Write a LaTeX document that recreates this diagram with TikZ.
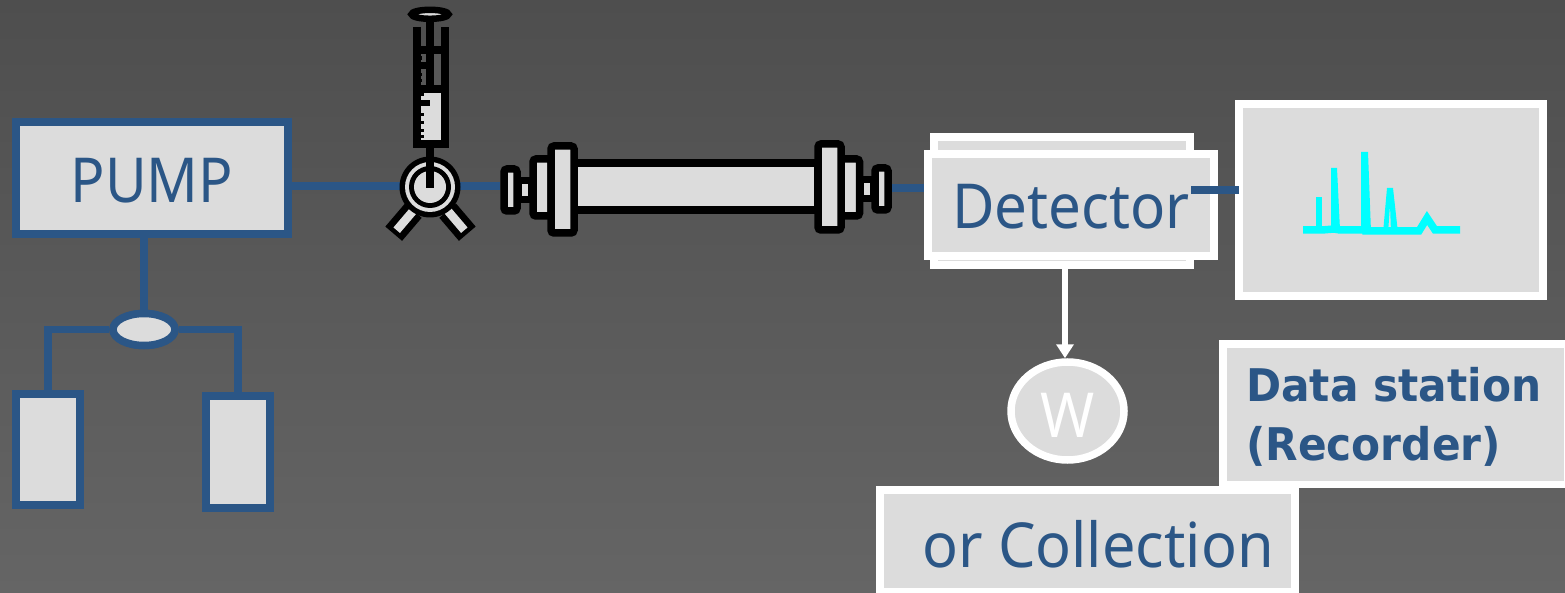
\documentclass[tikz,border=0pt]{standalone}
\usepackage{fontspec}
\setmainfont[FakeStretch=0.94]{Noto Sans}
\newfontfamily\stationfont[FakeStretch=0.94]{DejaVu Sans}
\usetikzlibrary{positioning,arrows.meta,shapes.geometric,calc}
\definecolor{panelgray}{HTML}{DCDCDC}
\definecolor{pipeblue}{HTML}{2B5686}
\definecolor{tracecyan}{HTML}{00FFFF}
\definecolor{windowgray}{HTML}{585858}
\definecolor{bgtop}{HTML}{4E4E4E}
\definecolor{bgmid}{HTML}{5E5E5E}
\definecolor{bgbottom}{HTML}{656565}

\begin{document}
\begin{tikzpicture}[
  x=1pt, y=-1pt,
  box/.style={draw=pipeblue, fill=panelgray, line width=7.5pt, inner sep=0pt, text=pipeblue, font=\fontsize{62}{70}\selectfont},
  whitebox/.style={box, draw=white},
  part/.style={draw=black, fill=panelgray, line width=7.5pt, rounded corners=3pt, inner sep=0pt},
  pipe/.style={draw=pipeblue, line width=7.5pt},
  trace/.style={draw=tracecyan, line width=7.5pt},
  blackline/.style={draw=black, line width=7.5pt}
]
\shade[top color=bgtop, middle color=bgmid, bottom color=bgbottom] (0,0) rectangle (1565,593);
\useasboundingbox (0,0) rectangle (1565,593);

\node[box, minimum width=272pt, minimum height=112pt, text height=49pt, text depth=0pt] (pump) at (152,178) {\scalebox{0.98}[1]{PUMP}};
\node[box, ellipse, minimum width=62pt, minimum height=32pt] (mixer) at (144,329.5) {};
\node[box, minimum width=64pt, minimum height=111pt] (tankA) at (48,449.5) {};
\node[box, minimum width=64pt, minimum height=112pt] (tankB) at (238,452) {};
\coordinate (tapA) at (48,329.5);
\coordinate (tapB) at (238,329.5);
\draw[pipe] (pump.south -| mixer) -- (mixer);
\draw[pipe] (mixer) -- (tapA) -- (tankA);
\draw[pipe] (mixer) -- (tapB) -- (tankB);
\node[box, ellipse, minimum width=62pt, minimum height=32pt] at (mixer) {};

\node[part, minimum width=244pt, minimum height=47pt, rounded corners=0pt] (tube) at (696,186.5) {};
\node[part, minimum width=14pt, minimum height=19pt, rounded corners=0pt] (ferruleL) at (525,190) {};
\node[part, minimum width=14pt, minimum height=19pt, rounded corners=0pt] (ferruleR) at (867,189) {};
\node[part, minimum width=18pt, minimum height=57pt] (nutL) at (542,187.5) {};
\node[part, minimum width=19pt, minimum height=57pt] (nutR) at (850,187.5) {};
\node[part, minimum width=23pt, minimum height=87pt] (flangeL) at (562.5,189.5) {};
\node[part, minimum width=23pt, minimum height=86pt] (flangeR) at (829.5,187) {};
\node[part, minimum width=13pt, minimum height=42pt] (capL) at (510.5,190) {};
\node[part, minimum width=13pt, minimum height=42pt] (capR) at (881.5,189) {};

\coordinate (valve) at (430,187);
\draw[pipe] (pump.east |- 0,186) -- (capL.west |- 0,186);
\draw[pipe] (capR.east |- 0,188) -- (925,188);

\draw[black, line width=22pt] (413.3,210.7) -- (393.7,233.7);
\draw[black, line width=22pt] (447.7,210.7) -- (467.3,233.7);
\draw[panelgray, line width=8.5pt] (413.3,210.7) -- (396.7,230.2);
\draw[panelgray, line width=8.5pt] (447.7,210.7) -- (464.3,230.2);
\fill[black] (valve) circle (30.5pt);
\fill[panelgray] (valve) circle (25pt);
\fill[black] (valve) circle (21pt);
\fill[panelgray] (valve) circle (16pt);

\fill[panelgray] (420,92) rectangle (442,141);
\fill[windowgray] (433,53) rectangle (442,85);
\fill[black] (420,53) rectangle (427,86);
\fill[windowgray] (422,53.5) rectangle (427,62.5);
\fill[windowgray] (422,69.5) rectangle (427,85);
\fill[windowgray] (420,53.5) rectangle (422,56);
\fill[windowgray] (420,60) rectangle (422,62.5);
\fill[windowgray] (420,69.5) rectangle (422,73);
\fill[windowgray] (420,76) rectangle (422,79);
\fill[windowgray] (420,82) rectangle (422,85);
\draw[blackline] (417,27) -- (417,144) -- (445,144) -- (445,27);
\draw[blackline] (430,15) -- (430,92);
\draw[blackline] (417,50) -- (445,50);
\draw[blackline] (417,89) -- (445,89);
\draw[blackline] (430,144) -- (430,188);
\foreach \y in {95,115,123,131,137} \draw[black, line width=3pt] (420,\y) -- (424,\y);
\draw[black, line width=6pt] (420,103) -- (430,103);
\draw[draw=black, fill=panelgray, line width=6.5pt] (430,14.3) ellipse (18.5pt and 4.5pt);

\node[whitebox, minimum width=256pt, minimum height=128pt] (detectorback) at (1062,201) {};
\node[whitebox, minimum width=286pt, minimum height=102pt, text height=48pt, text depth=0pt] (detector) at (1071,205) {Detector};
\node[whitebox, minimum width=304pt, minimum height=192pt] (monitor) at (1391,200) {};
\coordinate (outlet) at (1191,190);
\coordinate (inlet) at (1239,190);
\draw[pipe] (outlet) -- (inlet);

\draw[trace] (1303,230) -- (1322,230) -- (1334,229) -- (1340,230) -- (1366,230) -- (1366,231) -- (1396,231) -- (1419,231) -- (1427,218) -- (1435,230) -- (1460,230);
\fill[tracecyan] (1316,197) rectangle (1322,230);
\fill[tracecyan] (1331,168) -- (1337,168) -- (1340,230) -- (1331,230) -- cycle;
\fill[tracecyan] (1361,152) -- (1368,152) -- (1371,232) -- (1361,232) -- cycle;
\fill[tracecyan] (1387,188) -- (1393,188) -- (1398,233) -- (1391,233) -- (1390,205) -- (1388,233) -- (1383,233) -- cycle;

\node[box, draw=white, ellipse, minimum width=113pt, minimum height=98pt, text=white, text height=52pt, text depth=0pt] (waste) at (1067.5,411) {W};
\coordinate (drain) at (1065,268);
\draw[-{Triangle[length=14pt,width=17pt]}, draw=white, fill=white, line width=6pt] (drain) -- (drain |- waste.north);

\node[whitebox, minimum width=345pt, minimum height=140.5pt] (station) at (1395.5,414.25) {};
\node[anchor=west, inner sep=0pt, align=left, text=pipeblue, font=\fontsize{45}{59}\stationfont\bfseries] (stationlabel) at (1246,417) {Data station\\(Recorder)};
\node[whitebox, minimum width=415pt, minimum height=102pt, text height=52pt, text depth=0pt] (collection) at (1087.5,541) {\hspace{21pt}\scalebox{1.02}[1]{or Collection}};
\end{tikzpicture}
\end{document}
